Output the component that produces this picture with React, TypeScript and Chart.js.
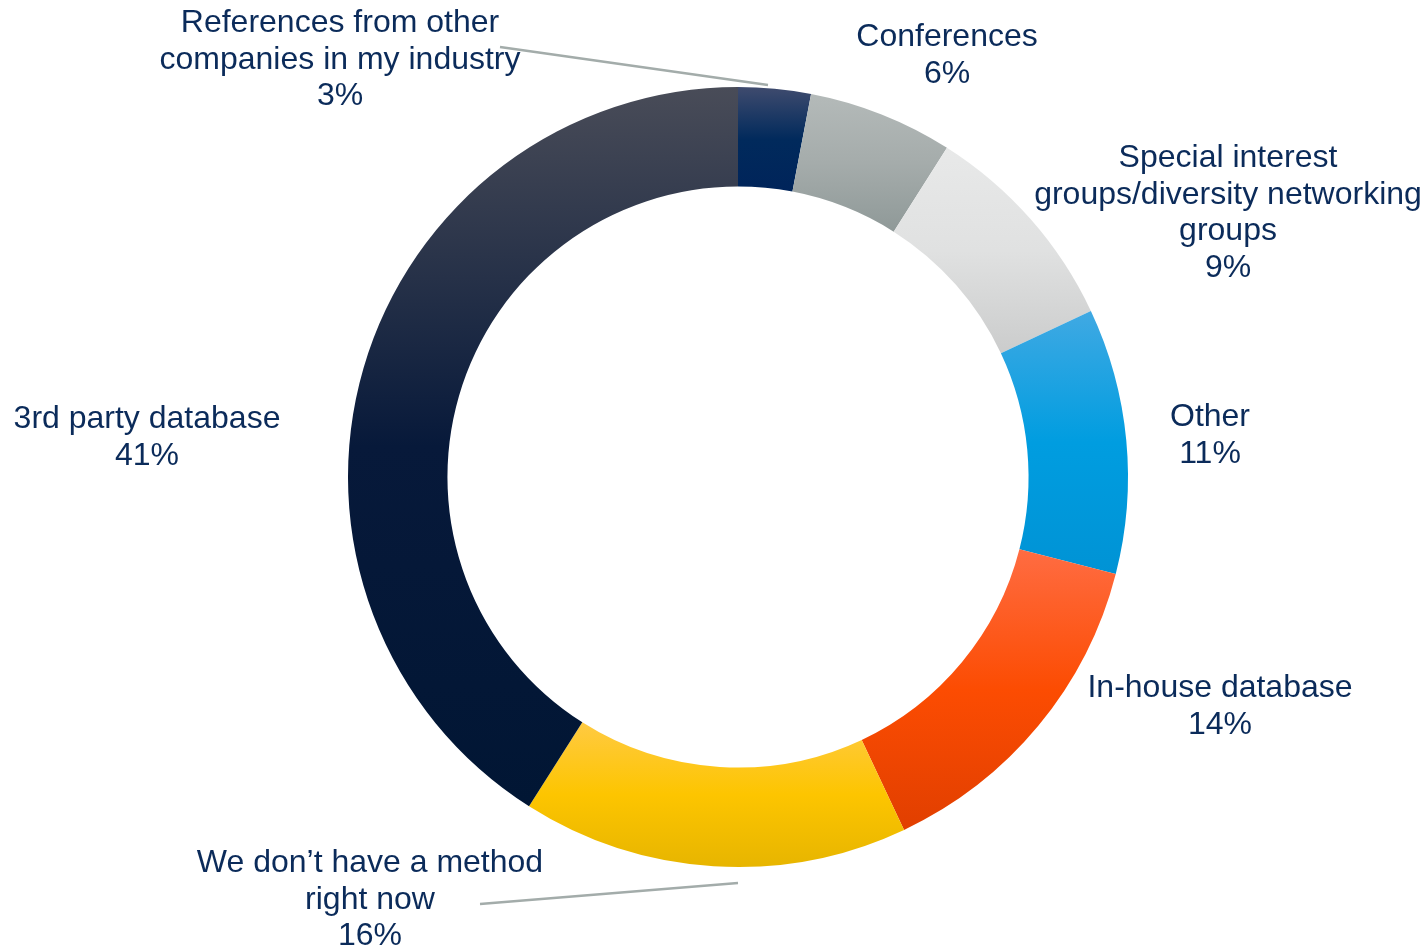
import React, { useEffect, useRef } from "react";
import { Chart, registerables } from "chart.js";

Chart.register(...registerables);

// Survey shares, clockwise from 12 o'clock
const categories = [
  "References from other companies in my industry",
  "Conferences",
  "Special interest groups/diversity networking groups",
  "Other",
  "In-house database",
  "We don’t have a method right now",
  "3rd party database",
];
const shares = [3, 6, 9, 11, 14, 16, 41];

// Label text as shown, line by line
const labelLines = [
  ["References from other", "companies in my industry"],
  ["Conferences"],
  ["Special interest", "groups/diversity networking", "groups"],
  ["Other"],
  ["In-house database"],
  ["We don’t have a method", "right now"],
  ["3rd party database"],
];

// Slice fills: vertical gradient top / middle / bottom
const sliceGradients = [
  ["#3f4b6e", "#012a5c", "#00245a"],
  ["#b4bab9", "#a5acab", "#8f9998"],
  ["#e8e9e9", "#e0e1e1", "#cbcccc"],
  ["#40a9e3", "#009de0", "#0093d5"],
  ["#ff6c42", "#fc4c02", "#e13f00"],
  ["#ffca42", "#fdc500", "#e7b500"],
  ["#494c58", "#07193a", "#011634"],
];

// Label placement: centre x and y of the first line, in canvas pixels
const labelPlacement = [
  { x: 340, y: 23 },
  { x: 947, y: 37 },
  { x: 1228, y: 158 },
  { x: 1210, y: 417 },
  { x: 1220, y: 688 },
  { x: 370, y: 863 },
  { x: 147, y: 419 },
];

// Leader lines for the two labels set away from their slices
const leaderLines = [
  { index: 0, from: { x: 500, y: 47 }, to: { x: 768, y: 85 } },
  { index: 5, from: { x: 480, y: 904 }, to: { x: 738, y: 883 } },
];

const TEXT_COLOR = "#0b2b5a";
const FONT = '32px "Liberation Sans", Arial, sans-serif';
const LINE_HEIGHT = 36.7;

const gradientFill = {
  id: "gradientFill",
  beforeDatasetsDraw(chart: any) {
    const ctx = chart.ctx;
    const meta = chart.getDatasetMeta(0);
    meta.data.forEach((arc: any, i: number) => {
      const p = arc.getProps(["x", "y", "startAngle", "endAngle", "innerRadius", "outerRadius"], true);
      let minY = Infinity;
      let maxY = -Infinity;
      const steps = 90;
      for (let s = 0; s <= steps; s++) {
        const a = p.startAngle + ((p.endAngle - p.startAngle) * s) / steps;
        for (const r of [p.innerRadius, p.outerRadius]) {
          const y = p.y + r * Math.sin(a);
          if (y < minY) minY = y;
          if (y > maxY) maxY = y;
        }
      }
      const g = ctx.createLinearGradient(0, minY, 0, maxY);
      const stops = sliceGradients[i];
      g.addColorStop(0, stops[0]);
      g.addColorStop(0.5, stops[1]);
      g.addColorStop(1, stops[2]);
      arc.options.backgroundColor = g;
    });
  },
};

const sliceLabels = {
  id: "sliceLabels",
  afterDatasetsDraw(chart: any) {
    const ctx = chart.ctx;
    ctx.save();
    ctx.strokeStyle = "#a3acaa";
    ctx.lineWidth = 2.5;
    leaderLines.forEach((l) => {
      ctx.beginPath();
      ctx.moveTo(l.from.x, l.from.y);
      ctx.lineTo(l.to.x, l.to.y);
      ctx.stroke();
    });
    ctx.fillStyle = TEXT_COLOR;
    ctx.font = FONT;
    ctx.textAlign = "center";
    ctx.textBaseline = "middle";
    shares.forEach((v, i) => {
      const lines = [...labelLines[i], `${v}%`];
      const pos = labelPlacement[i];
      lines.forEach((t, k) => {
        ctx.fillText(t, pos.x, pos.y + k * LINE_HEIGHT);
      });
    });
    ctx.restore();
  },
};

export default function App() {
  const canvasRef = useRef<HTMLCanvasElement>(null);

  useEffect(() => {
    document.body.style.margin = "0";
    const canvas = canvasRef.current;
    if (!canvas) return;
    const chart = new Chart(canvas, {
      type: "doughnut",
      data: {
        labels: categories,
        datasets: [
          {
            data: shares,
            backgroundColor: sliceGradients.map((g) => g[1]),
            borderWidth: 0,
          },
        ],
      },
      options: {
        responsive: false,
        animation: false,
        cutout: "74.5%",
        layout: { padding: { top: 87, bottom: 82, left: 348, right: 298 } },
        plugins: {
          legend: { display: false },
          tooltip: { enabled: false },
        },
      },
      plugins: [gradientFill, sliceLabels],
    });
    return () => chart.destroy();
  }, []);

  return (
    <div style={{ width: 1426, height: 949, background: "#ffffff" }}>
      <canvas ref={canvasRef} width={1426} height={949} style={{ display: "block" }} />
    </div>
  );
}
